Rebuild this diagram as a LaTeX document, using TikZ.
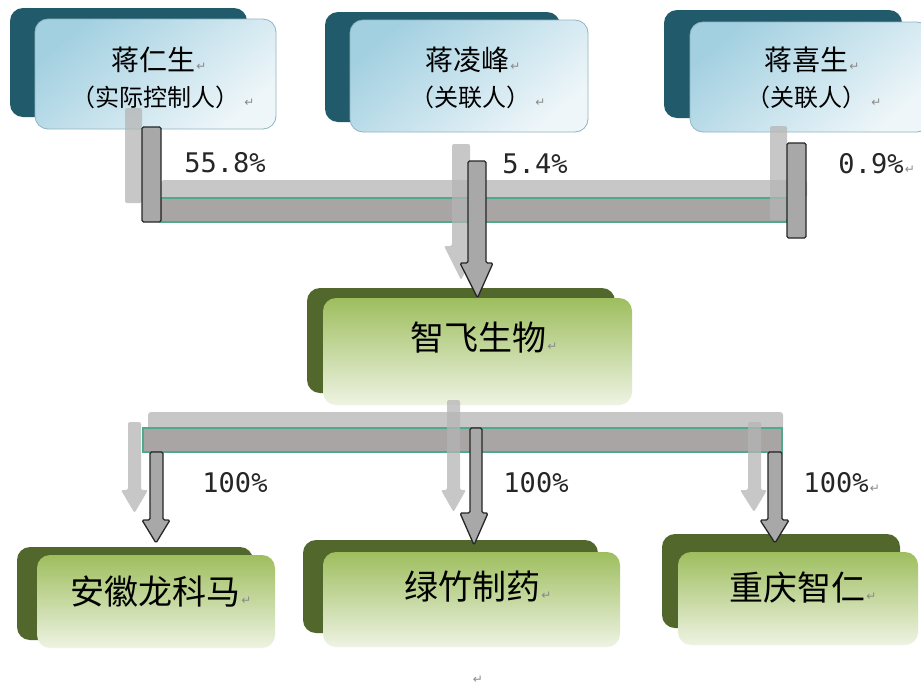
\documentclass[tikz,border=0pt]{standalone}
\usepackage{fontspec}
\newfontfamily\cjkf{Noto Sans CJK SC}
\newfontfamily\monof{DejaVu Sans Mono}
\newfontfamily\symf{DejaVu Sans}
\definecolor{tealdark}{HTML}{215A6A}
\definecolor{bluetop}{HTML}{A3D0E1}
\definecolor{bluebot}{HTML}{EEF6F9}
\definecolor{blueline}{HTML}{8FB5C3}
\definecolor{olivedark}{HTML}{52672B}
\definecolor{greentop}{HTML}{9EBE5E}
\definecolor{greenbot}{HTML}{EEF3E3}
\definecolor{busfill}{HTML}{A9A5A5}
\definecolor{busline}{HTML}{4FAA8C}
\definecolor{shadowgray}{HTML}{B5B5B5}
\definecolor{barfill}{HTML}{A8A8A8}
\definecolor{markgray}{HTML}{8A8A8A}
\begin{document}
\begin{tikzpicture}[x=1pt,y=-1pt,
  tback/.style={rectangle, rounded corners=13pt, fill=tealdark, inner sep=0pt},
  tfront/.style={rectangle, rounded corners=13pt, draw=blueline, line width=0.8pt,
     top color=bluetop, bottom color=bluebot, shading angle=40, inner sep=0pt},
  gback/.style={rectangle, rounded corners=13pt, fill=olivedark, inner sep=0pt},
  gfront/.style={rectangle, rounded corners=13pt, top color=greentop, bottom color=greenbot, inner sep=0pt},
  nameA/.style={font=\cjkf\fontsize{28}{30}\selectfont, inner sep=0pt},
  nameB/.style={font=\cjkf\fontsize{24}{26}\selectfont, inner sep=0pt},
  nameG/.style={font=\cjkf\fontsize{34}{36}\selectfont, inner sep=0pt},
  pct/.style={font=\monof\fontsize{27}{29}\selectfont, text=black!85, inner sep=0pt},
  pmark/.style={font=\symf\fontsize{12}{12}\selectfont, text=markgray, inner sep=1pt, anchor=base west},
  shadowbar/.style={fill=shadowgray, opacity=0.75, rounded corners=2pt},
  darkbar/.style={fill=barfill, draw=black!85, line width=1.3pt, rounded corners=1.5pt, line join=round},
  busbar/.style={fill=busfill, draw=busline, line width=1.4pt}
]
\useasboundingbox (0,0) rectangle (921,686);
\clip (0,0) rectangle (921,686);
\fill[white] (0,0) rectangle (921,686);

% ---- top boxes ----
\node[tback, minimum width=237pt, minimum height=109pt] (b1k) at (128.5,62.5) {};
\node[tfront, minimum width=241pt, minimum height=110pt] (b1) at (155.5,74) {};
\node[tback, minimum width=235pt, minimum height=110pt] (b2k) at (442.5,67) {};
\node[tfront, minimum width=238pt, minimum height=112pt] (b2) at (469,76) {};
\node[tback, minimum width=238pt, minimum height=108pt] (b3k) at (783,64) {};
\node[tfront, minimum width=240pt, minimum height=110pt] (b3) at (810,77) {};

\node[nameA] (t1a) at (153,60) {蒋仁生};
\node[pmark] (p1a) at (t1a.base east) {↵};
\node[nameB] (t1b) at (155,97) {（实际控制人）};
\node[pmark] (p1b) at ([xshift=4pt]t1b.base east) {↵};
\node[nameA] (t2a) at (467,60) {蒋凌峰};
\node[pmark] (p2a) at (t2a.base east) {↵};
\node[nameB] (t2b) at (470,97) {（关联人）};
\node[pmark] (p2b) at ([xshift=4pt]t2b.base east) {↵};
\node[nameA] (t3a) at (806,60) {蒋喜生};
\node[pmark] (p3a) at (t3a.base east) {↵};
\node[nameB] (t3b) at (806,97) {（关联人）};
\node[pmark] (p3b) at ([xshift=4pt]t3b.base east) {↵};

% ---- middle box ----
\node[gback, minimum width=308pt, minimum height=105pt] (zfk) at (461,340.5) {};
\node[gfront, minimum width=309pt, minimum height=107pt] (zf) at (477.5,351.5) {};
\node[nameG] (tzf) at (478,338) {智飞生物};
\node[pmark] (pzf) at (tzf.base east) {↵};

% ---- bottom boxes ----
\node[gback, minimum width=236pt, minimum height=93pt] (ahk) at (135,593.5) {};
\node[gfront, minimum width=238pt, minimum height=93pt] (ah) at (156,601.5) {};
\node[gback, minimum width=295pt, minimum height=93pt] (lzk) at (450.5,586.5) {};
\node[gfront, minimum width=297pt, minimum height=95pt] (lz) at (471.5,599.5) {};
\node[gback, minimum width=238pt, minimum height=94pt] (cqk) at (781,581) {};
\node[gfront, minimum width=240pt, minimum height=93pt] (cq) at (798,598.5) {};

\node[nameG] (tah) at (155,592) {安徽龙科马};
\node[pmark] (pah) at (tah.base east) {↵};
\node[nameG] (tlz) at (472,587) {绿竹制药};
\node[pmark] (plz) at (tlz.base east) {↵};
\node[nameG] (tcq) at (797,588) {重庆智仁};
\node[pmark] (pcq) at (tcq.base east) {↵};

% ---- top connector bus ----
\fill[shadowgray, opacity=0.75, rounded corners=3pt] (161,180) rectangle (807,198);
\path[busbar] (161,198) rectangle (787,222);
\path[shadowbar] (125,108) rectangle (142,203);
\path[shadowbar] (770,126) rectangle (787,220);
\path[shadowbar] (452,144) -- (452,246) -- (444,246) -- (461,280) -- (478,246) -- (470,246) -- (470,144) -- cycle;
\path[darkbar] (142,127) rectangle (161,222);
\path[darkbar] (787,143) rectangle (806,238);
\path[darkbar] (468,161) -- (468,263) -- (460,263) -- (zf.north) -- (493,263) -- (486,263) -- (486,161) -- cycle;

\node[pct] (l1) at (225,163) {55.8\%};
\node[pct] (l2) at (535,164) {5.4\%};
\node[pct] (l3) at (871,164) {0.9\%};
\node[pmark] (pl3) at (l3.base east) {↵};

% ---- bottom connector bus ----
\fill[shadowgray, opacity=0.75, rounded corners=3pt] (148,412) rectangle (783,430);
\path[busbar] (143,428) rectangle (782,452);
\path[shadowbar] (128,422) -- (128,490) -- (121,490) -- (134.5,513) -- (148,490) -- (141,490) -- (141,422) -- cycle;
\path[shadowbar] (447,400) -- (447,490) -- (441,490) -- (453.5,512) -- (466,490) -- (460,490) -- (460,400) -- cycle;
\path[shadowbar] (748,422) -- (748,490) -- (740,490) -- (754,512) -- (767,490) -- (761,490) -- (761,422) -- cycle;
\path[darkbar] (150,452) -- (150,520) -- (142,520) -- (156,543) -- (170,520) -- (163,520) -- (163,452) -- cycle;
\path[darkbar] (470,428) -- (470,513) -- (460,513) -- (474,545) -- (488,513) -- (482,513) -- (482,428) -- cycle;
\path[darkbar] (768,452) -- (768,520) -- (760,520) -- (775,543) -- (789,520) -- (782,520) -- (782,452) -- cycle;

\node[pct] (l4) at (235,483) {100\%};
\node[pct] (l5) at (536,483) {100\%};
\node[pct] (l6) at (836,483) {100\%};
\node[pmark] (pl6) at (l6.base east) {↵};

\node[font=\symf\fontsize{12}{12}\selectfont, text=markgray, inner sep=0pt] (pend) at (478,680) {↵};
\end{tikzpicture}
\end{document}
